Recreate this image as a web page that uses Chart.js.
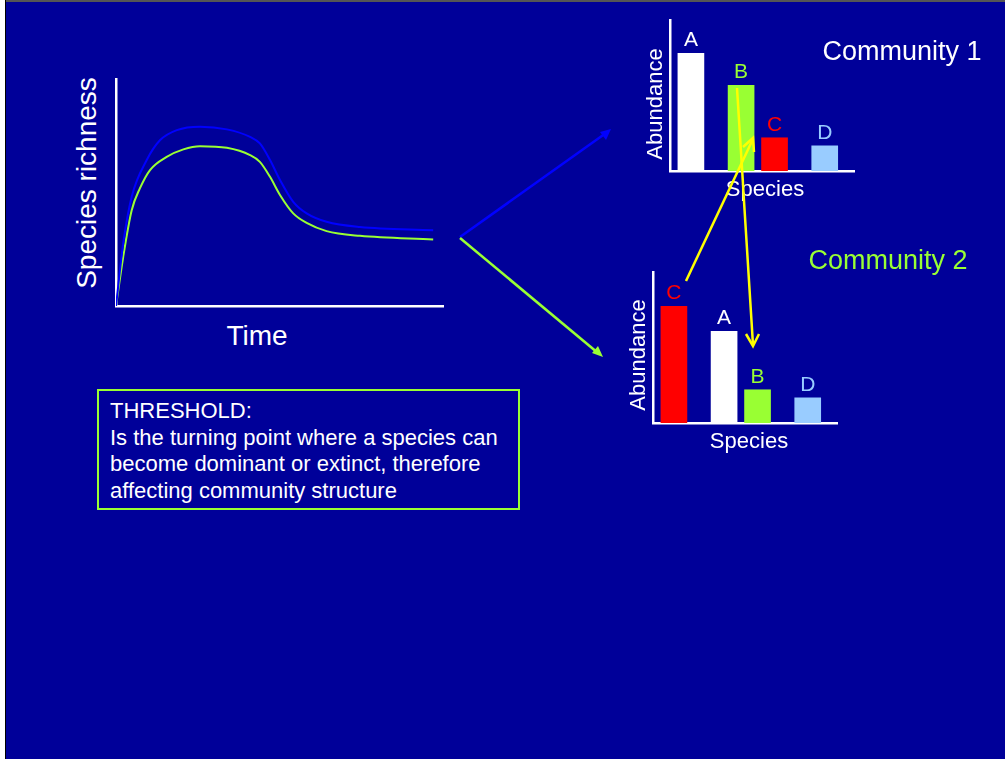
<!DOCTYPE html>
<html>
<head>
<meta charset="utf-8">
<script src="https://cdn.jsdelivr.net/npm/chart.js@4.4.1/dist/chart.umd.min.js"></script>
<style>
  html, body { margin: 0; padding: 0; }
  body { width: 1005px; height: 759px; background: #000099; position: relative; overflow: hidden;
         font-family: "Liberation Sans", Arial, sans-serif; }
  canvas { position: absolute; }
  .lbl { position: absolute; white-space: nowrap; line-height: 1; transform: translate(-50%, -50%); }
  .rot { transform: translate(-50%, -50%) rotate(-90deg); }
  #box { position: absolute; left: 97px; top: 389px; width: 419px; height: 117px;
         border: 2px solid #99ff33; color: #fff; font-size: 22px; line-height: 26.7px;
         padding: 0; }
  #box div { position: absolute; left: 11px; top: 7px; white-space: nowrap; }
  #arrows { position: absolute; left: 0; top: 0; z-index: 5; }
</style>
</head>
<body>
<div style="position:absolute;left:0;top:0;width:1005px;height:2px;background:#555"></div>
<div style="position:absolute;left:0;top:0;width:5px;height:759px;background:#fff"></div>
<div style="position:absolute;left:5px;top:0;width:1px;height:759px;background:#000"></div>

<canvas id="richness" width="345" height="240" style="left:110px;top:70px"></canvas>
<canvas id="comm1" width="200" height="170" style="left:660px;top:10px"></canvas>
<canvas id="comm2" width="200" height="170" style="left:643px;top:262px"></canvas>

<div class="lbl rot" style="left:87px;top:183px;font-size:28px;color:#fff">Species richness</div>
<div class="lbl" style="left:257px;top:336px;font-size:28px;color:#fff">Time</div>

<div class="lbl rot" style="left:655px;top:104px;font-size:22px;color:#fff">Abundance</div>
<div class="lbl" style="left:765px;top:189px;font-size:22px;color:#fff">Species</div>
<div class="lbl" style="left:902px;top:51px;font-size:27px;color:#fff">Community 1</div>

<div class="lbl rot" style="left:638px;top:355px;font-size:22px;color:#fff">Abundance</div>
<div class="lbl" style="left:749px;top:441px;font-size:22px;color:#fff">Species</div>
<div class="lbl" style="left:888px;top:260px;font-size:27px;color:#99ff33">Community 2</div>

<div id="box"><div>THRESHOLD:<br>Is the turning point where a species can<br>become dominant or extinct, therefore<br>affecting community structure</div></div>

<svg id="arrows" width="1005" height="759">
  <line x1="460" y1="237" x2="606" y2="133" stroke="#0000ff" stroke-width="2.5"/>
  <polygon points="611,129 600,132 606,140" fill="#0000ff"/>
  <line x1="460" y1="238" x2="598" y2="353" stroke="#99ff33" stroke-width="2.5"/>
  <polygon points="603,357 592,353 598,346" fill="#99ff33"/>
  <g stroke="#ffff00" stroke-width="2.5" fill="none">
    <line x1="686" y1="281" x2="753" y2="139"/>
    <polyline points="743,147 753,138 754,152"/>
    <line x1="737" y1="88" x2="753" y2="345"/>
    <polyline points="746,334 753,346 759,334"/>
  </g>
</svg>

<script>
// species richness over time
const blueTime  = [0, 2.2, 4.8, 9.4, 13.5, 18.6, 25.7, 33.9, 41.0, 44.0, 47.1, 50.2, 54.2, 58.3, 64.4, 74.6, 97];
const blueVals  = [0, 27.5, 48.1, 64.3, 73.1, 77.5, 79.0, 77.8, 74.5, 71.6, 64.3, 55.4, 45.9, 40.8, 37.1, 34.8, 33.4];
const greenTime = [0, 2.2, 4.8, 7.3, 10.4, 15.5, 20.6, 25.7, 33.9, 41.0, 44.0, 47.1, 50.2, 54.2, 58.3, 64.4, 74.6, 97];
const greenVals = [0, 21.6, 42.2, 51.8, 59.9, 65.7, 69.0, 70.4, 69.7, 66.5, 63.5, 56.9, 48.8, 40.8, 36.6, 33.0, 30.9, 29.3];

// abundance bars (slot = place along the species axis)
const slotPos     = [1.25, 4.25, 6.25, 9.25];
const comm1Names  = ['A', 'B', 'C', 'D'];
const comm1Vals   = [117, 85, 33, 25];
const comm2Names  = ['C', 'A', 'B', 'D'];
const comm2Vals   = [116, 91, 33, 25];

const speciesColor = { A: '#ffffff', B: '#99ff33', C: '#ff0000', D: '#99ccff' };

function plainAxis(min, max) {
  return {
    type: 'linear', min: min, max: max, offset: false,
    ticks: { display: false },
    grid: { display: false, drawTicks: false },
    border: { display: true, color: '#ffffff', width: 2.5 }
  };
}

new Chart(document.getElementById('richness'), {
  type: 'line',
  data: {
    datasets: [
      {
        data: blueTime.map((t, i) => ({ x: t, y: blueVals[i] })),
        borderColor: '#0000ff', borderWidth: 2, pointRadius: 0,
        cubicInterpolationMode: 'monotone'
      },
      {
        data: greenTime.map((t, i) => ({ x: t, y: greenVals[i] })),
        borderColor: '#99ff33', borderWidth: 2, pointRadius: 0,
        cubicInterpolationMode: 'monotone'
      }
    ]
  },
  options: {
    responsive: false,
    animation: false,
    layout: { padding: { left: 6, top: 9, right: 12, bottom: 4 } },
    plugins: { legend: { display: false }, tooltip: { enabled: false } },
    scales: { x: plainAxis(0, 100), y: plainAxis(0, 100) }
  }
});

const barLabels = {
  id: 'barLabels',
  afterDatasetsDraw(chart) {
    const ctx = chart.ctx;
    const names = chart.data.datasets[0].names;
    ctx.save();
    ctx.font = '21px "Liberation Sans", Arial, sans-serif';
    ctx.textAlign = 'center';
    ctx.textBaseline = 'alphabetic';
    chart.getDatasetMeta(0).data.forEach((bar, i) => {
      ctx.fillStyle = speciesColor[names[i]];
      ctx.fillText(names[i], bar.x, bar.y - 7);
    });
    ctx.restore();
  }
};

function abundanceChart(id, names, vals) {
  return new Chart(document.getElementById(id), {
    type: 'bar',
    data: {
      datasets: [{
        names: names,
        data: vals.map((v, i) => ({ x: slotPos[i], y: v })),
        backgroundColor: names.map(n => speciesColor[n]),
        barThickness: 26,
        borderWidth: 0
      }]
    },
    options: {
      responsive: false,
      animation: false,
      layout: { padding: { left: 10, top: 10, right: 6, bottom: 9 } },
      plugins: { legend: { display: false }, tooltip: { enabled: false } },
      scales: { x: plainAxis(0, 11), y: plainAxis(0, 150) }
    },
    plugins: [barLabels]
  });
}

abundanceChart('comm1', comm1Names, comm1Vals);
abundanceChart('comm2', comm2Names, comm2Vals);
</script>
</body>
</html>
